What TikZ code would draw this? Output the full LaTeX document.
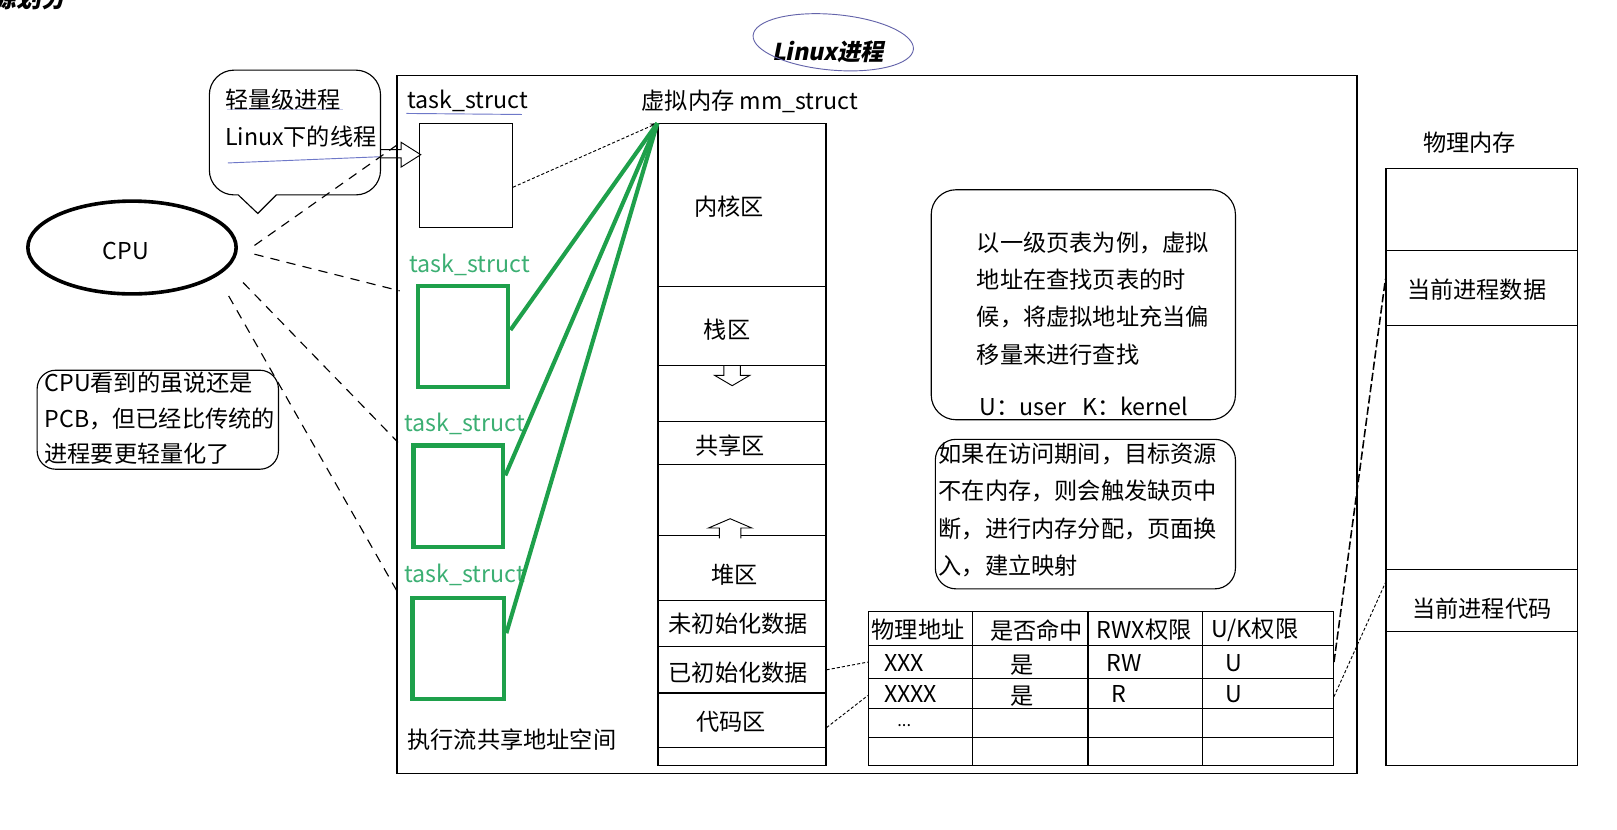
\documentclass[tikz,border=0pt]{standalone}
\usepackage{fontspec}
\setmainfont{Noto Sans CJK SC}[AutoFakeSlant=0.2]
\newfontfamily\titlefont{Noto Sans CJK SC}[UprightFeatures={FakeSlant=0.2}, BoldFeatures={FakeSlant=0.2}]
\usetikzlibrary{shapes.geometric,arrows.meta}
\definecolor{grn}{RGB}{30,160,75}
\definecolor{lgrn}{RGB}{60,175,115}
\definecolor{ulblue}{RGB}{110,120,200}
\definecolor{purp}{RGB}{100,100,170}
\begin{document}
\begin{tikzpicture}[x=1pt,y=-1pt,
  txt/.style={font=\fontsize{22.5}{36}\selectfont, inner sep=0pt, align=left},
  box/.style={draw, line width=1.1, inner sep=0pt},
  tbox/.style={box, minimum width=90, minimum height=101},
  gbox/.style={draw=grn, line width=4, inner sep=0pt},
  gline/.style={draw=grn, line width=4},
  cpudash/.style={dash pattern=on 9pt off 7pt, line width=1.1},
  fine/.style={dash pattern=on 3pt off 2pt, line width=0.9},
  sec/.style={box, minimum width=163},
  rbox/.style={draw, line width=1.1, inner sep=0pt},
  ul/.style={draw=ulblue, line width=0.9}]
\useasboundingbox (0,0) rectangle (1568,804);

% heading fragment and title
\node[font=\fontsize{24}{28}\selectfont\titlefont\bfseries, anchor=base east, inner sep=0pt] (head) at (64,7) {源划分};
\node[font=\fontsize{22.5}{27}\selectfont\titlefont\bfseries, inner sep=0pt] (title) at (803,50) {Linux进程};
\draw[purp, line width=0.9, rotate around={-5:(808,41)}] (808,41) ellipse [x radius=78, y radius=27];

% main process frame
\node[box, line width=1.5, minimum width=931, minimum height=677] (proc) at (850.5,411.5) {};

% CPU
\node[ellipse, draw, line width=3.5, minimum width=202, minimum height=90, inner sep=0pt] (cpu) at (128,240) {};
\node[txt] (cputxt) at (122,243) {CPU};

% speech bubble
\draw[line width=1.1] (250,207) -- (231,189) [rounded corners=24] -- (203,189) -- (203,68) -- (369,68) -- (369,189) [sharp corners] -- (268,189) -- cycle;
\node[txt, anchor=west] (bub1) at (218,97) {轻量级进程};
\node[txt, anchor=west] (bub2) at (218,132) {Linux下的线程};
\draw[ul, opacity=0.4] (220,106) -- (333,106);
\draw[ul] (221,158) -- (368,152);
\coordinate (bub) at (369,149);
\coordinate (btip) at (408,150);
\draw[line width=0.9] (369,145) -- (389,145) -- (389,138) -- (btip) -- (389,162) -- (389,153) -- (369,153);

% CPU note
\node[rbox, rounded corners=18, minimum width=234, minimum height=96] (cpunote) at (153,407) {};
\node[txt, anchor=west] (cpun1) at (43,371) {CPU看到的虽说还是};
\node[txt, anchor=west] (cpun2) at (43,406) {PCB，但已经比传统的};
\node[txt, anchor=west] (cpun3) at (43,440) {进程要更轻量化了};

% task_struct boxes
\node[txt, anchor=west] (l1) at (395,98) {task\_struct};
\draw[ul] (394,110) -- (506,111);
\node[tbox] (t1) at (452,170.5) {};
\node[txt, anchor=west, text=lgrn] (l2) at (397,257) {task\_struct};
\node[gbox, minimum width=88, minimum height=98] (t2) at (449,326) {};
\node[txt, anchor=west, text=lgrn] (l3) at (392,411) {task\_struct};
\node[gbox, minimum width=87, minimum height=98] (t3) at (444.5,481) {};
\node[txt, anchor=west, text=lgrn] (l4) at (392,557) {task\_struct};
\node[gbox, minimum width=89, minimum height=98] (t4) at (444.5,629) {};
\node[txt, anchor=west] (shared) at (395,717) {执行流共享地址空间};

% virtual memory column
\node[txt, anchor=west] (mmlbl) at (622,98) {虚拟内存 mm\_struct};
\node[sec, minimum height=622] (mm) at (719.5,431) {};
\node[sec, minimum height=158] (kern) at (719.5,199) {};
\node[sec, minimum height=76] (stack) at (719.5,316) {};
\node[sec, minimum height=41] (share) at (719.5,429.5) {};
\node[sec, minimum height=63] (heap) at (719.5,550.5) {};
\node[sec, minimum height=45] (uninit) at (719.5,604.5) {};
\node[sec, minimum height=45] (init) at (719.5,649.5) {};
\node[sec, minimum height=53] (code) at (719.5,698.5) {};
\node[txt] (kernt) at (707,200) {内核区};
\node[txt] (stackt) at (705,320) {栈区};
\node[txt] (sharet) at (708,432) {共享区};
\node[txt] (heapt) at (712,557) {堆区};
\node[txt] (uninitt) at (716,605) {未初始化数据};
\node[txt] (initt) at (716,652) {已初始化数据};
\node[txt] (codet) at (709,700) {代码区};
\draw[line width=0.9] (702,354) -- (702,364) -- (693,364) -- (710,374) -- (727,364) -- (718,364) -- (718,354);
\draw[line width=0.9, fill=white] (697.5,522) -- (697.5,512) -- (687,512) -- (708,503) -- (729,512) -- (718.5,512) -- (718.5,522);

% connectors task -> mm
\draw[cpudash] ([shift={(16,-2)}]cpu.east) -- ([shift={(-17,18)}]t1.north west);
\draw[cpudash] ([shift={(16,6.5)}]cpu.east) -- ([shift={(-15.5,7)}]t2.north west);
\draw[cpudash] ([shift={(5,34)}]cpu.east) -- ([shift={(-13,-1)}]t3.north west);
\draw[cpudash] ([shift={(-9,47)}]cpu.east) -- ([shift={(-12,-3)}]t4.north west);
\draw[fine, -{Stealth[length=7pt,width=5pt]}] ([shift={(0,11)}]t1.east) -- (kern.north west);
\draw[gline] ([shift={(0,-6)}]t2.east) -- (kern.north west);
\draw[gline] ([shift={(0,-20)}]t3.east) -- (kern.north west);
\draw[gline] ([shift={(0,-15)}]t4.east) -- (kern.north west);

% notes
\node[rbox, rounded corners=24, minimum width=295, minimum height=223] (notea) at (1050.5,295.5) {};
\node[txt, anchor=west] (noteat) at (947,289.5) {以一级页表为例，虚拟\\地址在查找页表的时\\候，将虚拟地址充当偏\\移量来进行查找};
\node[txt, anchor=west] (noteau) at (950,394) {U：user \ \ K：kernel};
\node[rbox, rounded corners=20, minimum width=291, minimum height=145] (noteb) at (1052.5,498.5) {};
\node[txt, anchor=west] (notebt) at (910,494.5) {如果在访问期间，目标资源\\不在内存，则会触发缺页中\\断，进行内存分配，页面换\\入，建立映射};

% page table
\node[box, minimum width=451, minimum height=149] (tbl) at (1067.5,667.5) {};
\node[box, minimum width=451, minimum height=33] (hdr) at (1067.5,609.5) {};
\node[box, minimum width=451, minimum height=32] (r1) at (1067.5,642) {};
\node[box, minimum width=451, minimum height=29] (r2) at (1067.5,672.5) {};
\node[box, minimum width=451, minimum height=28] (r3) at (1067.5,701) {};
\draw[line width=1.1] (943,593) -- (943,742) (1055,593) -- (1055,742) (1166,593) -- (1166,742);
\node[txt, anchor=west] (h1) at (845,611) {物理地址};
\node[txt, anchor=west] (h2) at (960,611) {是否命中};
\node[txt, anchor=west] (h3) at (1063,611) {RWX权限};
\node[txt, anchor=west] (h4) at (1175,611) {U/K权限};
\node[txt, anchor=west] (a1) at (857,643) {XXX};
\node[txt, anchor=west] (a2) at (980,645) {是};
\node[txt, anchor=west] (a3) at (1073,643) {RW};
\node[txt, anchor=west] (a4) at (1188,643) {U};
\node[txt, anchor=west] (b1) at (857,673) {XXXX};
\node[txt, anchor=west] (b2) at (980,675) {是};
\node[txt, anchor=west] (b3) at (1078,673) {R};
\node[txt, anchor=west] (b4) at (1188,673) {U};
\node[txt, anchor=west, font=\fontsize{16}{20}\selectfont] (c1) at (870,704) {...};

% physical memory
\node[txt] (pmlbl) at (1425,138) {物理内存};
\node[box, minimum width=186, minimum height=579] (pm) at (1437,452.5) {};
\node[box, minimum width=186, minimum height=73] (pdata) at (1437,279.5) {};
\node[box, minimum width=186, minimum height=60] (pcode) at (1437,582) {};
\node[txt] (pdatat) at (1432,281) {当前进程数据};
\node[txt] (pcodet) at (1437,590) {当前进程代码};

% mapping connectors
\draw[fine] (init.east) -- (r1.west);
\draw[fine] ([shift={(0,7)}]code.east) -- ([shift={(0,2)}]r2.west);
\draw[dash pattern=on 8pt off 3pt, line width=1.5] (r1.east) -- ([shift={(0,-9)}]pdata.west);
\draw[fine] ([shift={(0,3)}]r2.east) -- ([shift={(0,-17)}]pcode.west);
\end{tikzpicture}
\end{document}
